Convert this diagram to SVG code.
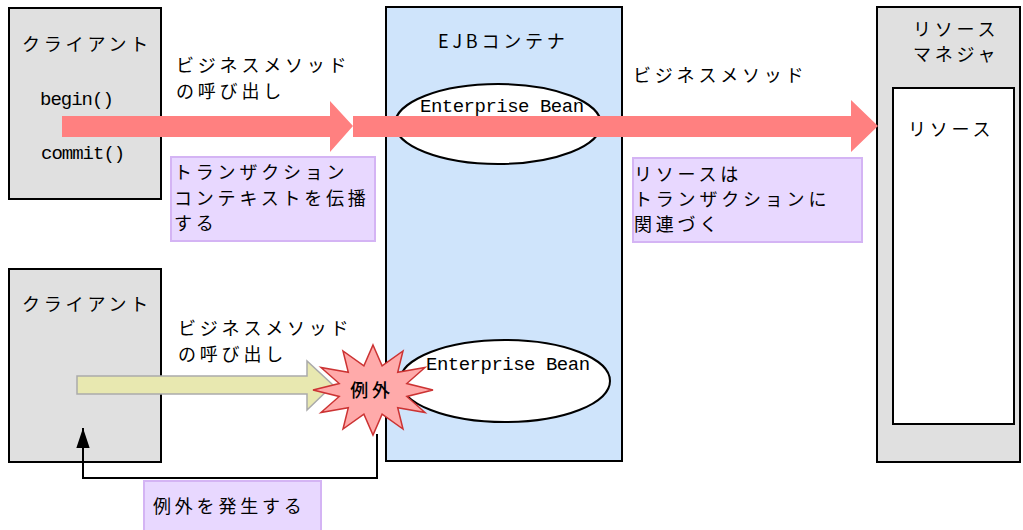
<svg xmlns="http://www.w3.org/2000/svg" width="1023" height="530" viewBox="0 0 1023 530">
<style>
.jp{font-family:"Noto Sans CJK JP","Noto Sans",sans-serif;font-size:18px;letter-spacing:3.8px;fill:#000}
.mono{font-family:"Liberation Mono",monospace;font-size:19px;fill:#000}
.gray{fill:#e0e0e0;stroke:#000;stroke-width:2}
.note{fill:#e8d8ff;stroke:#d4b4f4;stroke-width:2}
.bean{fill:#fff;stroke:#000;stroke-width:2}
</style>
<defs>
<marker id="ah" markerUnits="userSpaceOnUse" markerWidth="14" markerHeight="20" refX="6" refY="0" viewBox="0 0 12 18" orient="auto" overflow="visible">
<path d="M0,-6 L18,0 L0,6 Z" transform="translate(-12,0)" fill="#000"/>
</marker>
</defs>
<g id="client1">
<rect class="gray" x="9" y="8" width="152" height="191"/>
<text class="jp" x="22" y="51">クライアント</text>
<text class="mono" x="40" y="105" letter-spacing="-1">begin()</text>
<text class="mono" x="41" y="159" letter-spacing="-1">commit()</text>
</g>
<g id="client2">
<rect class="gray" x="9" y="269" width="152" height="193"/>
<text class="jp" x="22" y="311">クライアント</text>
</g>
<g id="ejb-container">
<rect x="386" y="7" width="236" height="454" fill="#cfe4fb" stroke="#000" stroke-width="2"/>
<text class="jp" x="438" y="48" letter-spacing="1.8">EJBコンテナ</text>
</g>
<g id="bean1">
<ellipse class="bean" cx="498" cy="124" rx="103" ry="40"/>
<text class="mono" x="420" y="112" letter-spacing="-0.5">Enterprise Bean</text>
</g>
<g id="bean2">
<ellipse class="bean" cx="505" cy="381" rx="105" ry="41"/>
<text class="mono" x="426" y="370" letter-spacing="-0.5">Enterprise Bean</text>
</g>
<g id="resource-manager">
<rect class="gray" x="877" y="7" width="143" height="455"/>
<text class="jp" x="913" y="36">リソース</text>
<text class="jp" x="913" y="61">マネジャ</text>
</g>
<g id="resource">
<rect x="893" y="88" width="121" height="336" fill="#fff" stroke="#000" stroke-width="2"/>
<text class="jp" x="908" y="136">リソース</text>
</g>
<g id="connectors">
<path d="M62,116 H330 V101 L353,126 L330,152 V137 H62 Z" fill="#ff8080"/>
<path d="M353,116 H851 V100 L878,126 L851,152 V137 H353 Z" fill="#ff8080"/>
<path d="M77,376 H307 V361 L333,385 L307,410 V394 H77 Z" fill="#e8e8b0" stroke="#aaaaaa" stroke-width="1.5"/>
<path d="M377,434 V478 H83 V428" fill="none" stroke="#000" stroke-width="2" marker-end="url(#ah)"/>
</g>
<g id="label-call1">
<text class="jp" x="176" y="72">ビジネスメソッド</text>
<text class="jp" x="176" y="98">の呼び出し</text>
</g>
<g id="label-call2">
<text class="jp" x="633" y="82">ビジネスメソッド</text>
</g>
<g id="label-call3">
<text class="jp" x="178" y="335">ビジネスメソッド</text>
<text class="jp" x="178" y="361">の呼び出し</text>
</g>
<g id="note1">
<rect class="note" x="171" y="157" width="204" height="84"/>
<text class="jp" x="174" y="179">トランザクション</text>
<text class="jp" x="174" y="205">コンテキストを伝播</text>
<text class="jp" x="174" y="230">する</text>
</g>
<g id="note2">
<rect class="note" x="633" y="158" width="229" height="84"/>
<text class="jp" x="634" y="181">リソースは</text>
<text class="jp" x="634" y="206">トランザクションに</text>
<text class="jp" x="634" y="231">関連づく</text>
</g>
<g id="exception">
<polygon points="373,345 382.1,365.9 403,351 397.7,372.3 425,367.5 406.8,383.5 433,390 406.8,396.5 425,412.5 397.7,407.7 403,429 382.1,414.1 373,435 363.9,414.1 343,429 348.3,407.7 321,412.5 339.2,396.5 313,390 339.2,383.5 321,367.5 348.3,372.3 343,351 363.9,365.9" fill="#ffaaaa" stroke="#cc3333" stroke-width="1.5"/>
<text class="jp" x="372" y="397" text-anchor="middle" letter-spacing="0" font-size="19" font-weight="500">例外</text>
</g>
<g id="note3">
<rect class="note" x="144" y="481" width="177" height="55"/>
<text class="jp" x="153" y="513">例外を発生する</text>
</g>
</svg>
